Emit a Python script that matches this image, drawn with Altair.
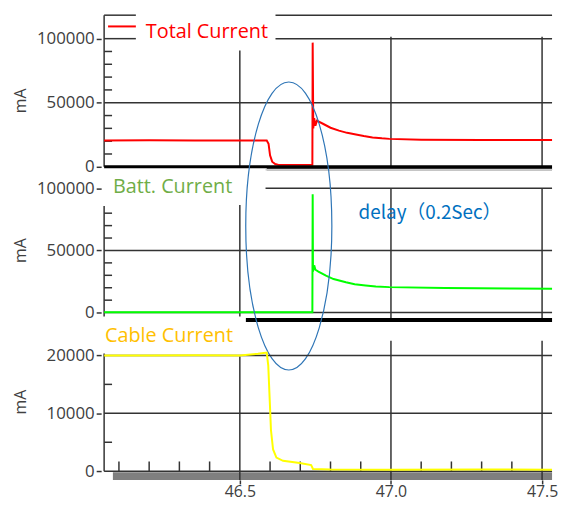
import altair as alt
import pandas as pd

# ---------------- data ----------------
total_x = [46.051, 46.2, 46.35, 46.5, 46.589, 46.595, 46.600, 46.607, 46.617, 46.628, 46.700,
           46.740, 46.741, 46.743, 46.746, 46.750, 46.755, 46.775, 46.800, 46.828, 46.855,
           46.884, 46.910, 46.939, 46.970, 46.995, 47.1, 47.3, 47.533]
total_y = [20600, 20700, 20500, 20600, 20600, 18000, 9000, 4000, 2200, 1500, 1500,
           1500, 96900, 30000, 38000, 32000, 36000, 33600, 30500, 28200, 26500,
           25200, 24000, 22900, 22200, 21800, 21200, 21000, 21000]

batt_x = [46.051, 46.740, 46.741, 46.742, 46.746, 46.750, 46.760, 46.785, 46.810, 46.851,
          46.880, 46.916, 46.95, 46.995, 47.179, 47.4, 47.533]
batt_y = [200, 200, 95300, 33000, 38000, 34500, 33000, 29700, 27000, 24400,
          22800, 21800, 21000, 20500, 19700, 19400, 19100]

cable_x = [46.051, 46.2, 46.35, 46.5, 46.56, 46.589, 46.594, 46.599, 46.603, 46.610,
           46.621, 46.643, 46.698, 46.736, 46.742, 46.80, 47.0, 47.3, 47.533]
cable_y = [20000, 20000, 20050, 20000, 20300, 20500, 18300, 12150, 7100, 3750,
           2350, 1800, 1400, 1060, 390, 300, 250, 300, 250]

series_names = ["Total Current", "Batt. Current", "Cable Current"]
unit = "mA"
x_ticks = [46.5, 47.0, 47.5]
x_minor = [46.1, 46.2, 46.3, 46.4, 46.6, 46.7, 46.8, 46.9, 47.1, 47.2, 47.3, 47.4]
y_ticks_big = [0, 50000, 100000]
y_minor_big = [10000, 20000, 30000, 40000, 60000, 70000, 80000, 90000]
y_ticks_small = [0, 10000, 20000]
y_minor_small = [5000, 15000]
note_text = "delay（0.2Sec）"

# ---------------- layout constants ----------------
XMIN, XMAX = 46.051, 47.533
X_DOMAIN = [XMIN, XMAX]
W = 452
H1, H2, H3 = 153, 156, 160
D1 = [0, 118321]
D2 = [-7087, 117323]
D3 = [-1513, 25882]
GRID = "#333333"
FONT = "Open Sans"
LABEL = "#404040"


def xs():
    return alt.Scale(domain=X_DOMAIN, nice=False, zero=False)


def ys(d):
    return alt.Scale(domain=d, nice=False, zero=False)


def yaxis(ticks, title_y):
    return alt.Axis(
        values=ticks, format="d", title=unit, domain=False, grid=False,
        tickSize=5, tickColor=GRID, tickWidth=1.5, offset=3, labelPadding=2,
        labelFont=FONT, labelFontSize=17, labelColor=LABEL,
        titleFont=FONT, titleFontSize=16, titleFontWeight="normal", titleColor=LABEL,
        titleX=-81, titleY=title_y, titleAlign="center", titleBaseline="middle")


XAXIS3 = alt.Axis(values=x_ticks, format=".1f", title=None, domain=False,
                  grid=False, tickSize=4, tickColor=GRID, tickWidth=1.5,
                  labelPadding=0, labelFont=FONT, labelFontSize=16,
                  labelColor=LABEL)


class Panel:
    def __init__(self, d, ya, xa=None):
        self.d = d
        self.ya = ya
        self.xa = xa

    def X(self, f="x:Q"):
        return alt.X(f, scale=xs(), axis=self.xa)

    def Y(self, f="y:Q"):
        return alt.Y(f, scale=ys(self.d), axis=self.ya)

    def hsegs(self, rows, color=GRID, width=1.5):
        df = pd.DataFrame(rows, columns=["x", "x2", "y"])
        return alt.Chart(df).mark_rule(color=color, strokeWidth=width).encode(
            x=self.X(), x2="x2:Q", y=self.Y())

    def vsegs(self, rows, color=GRID, width=1.5):
        df = pd.DataFrame(rows, columns=["x", "y", "y2"])
        return alt.Chart(df).mark_rule(color=color, strokeWidth=width).encode(
            x=self.X(), y=self.Y(), y2="y2:Q")

    def minor_y(self, vals):
        df = pd.DataFrame({"y": vals})
        return alt.Chart(df).mark_rule(color=GRID, strokeWidth=1.5).encode(
            x=alt.value(0), x2=alt.value(8), y=self.Y())

    def series(self, xv, yv, color):
        df = pd.DataFrame({"x": xv, "y": yv})
        return alt.Chart(df).mark_line(color=color, strokeWidth=2).encode(
            x=self.X(), y=self.Y())

    def label(self, txt, x, y, color, size=20, font=FONT):
        df = pd.DataFrame({"x": [x], "y": [y], "t": [txt]})
        return alt.Chart(df).mark_text(align="left", baseline="middle", font=font,
                                       fontSize=size, color=color).encode(
            x=self.X(), y=self.Y(), text="t:N")


# ---------------- panel 1 : Total Current ----------------
P1 = Panel(D1, yaxis(y_ticks_big, 86), None)
p1 = alt.layer(
    P1.hsegs([[XMIN, 46.156, 118321], [46.618, XMAX, 118321],
              [XMIN, 46.156, 100000], [46.618, XMAX, 100000],
              [XMIN, XMAX, 50000]]),
    P1.vsegs([[46.5, 0, 90840], [47.0, 0, 101500], [47.5, 0, 101500],
              [XMIN, 0, 118321]]),
    P1.minor_y(y_minor_big),
    P1.hsegs([[46.064, 46.156, 109542]], color="#FF0000", width=2),
    P1.label(series_names[0], 46.189, 105344, "#FF0000"),
    P1.series(total_x, total_y, "#FF0000"),
    P1.hsegs([[XMIN, XMAX, 0]], color="#000000", width=3),
    P1.hsegs([[46.589, XMAX, -1900]], color="#000000", width=2),
).properties(width=W, height=H1)

# ---------------- panel 2 : Batt. Current ----------------
P2 = Panel(D2, yaxis(y_ticks_big, 84), None)
ell = pd.DataFrame({"x": [46.662], "y": [69685]})
ELLIPSE = ("M0,-1 C0.165,-1 0.299,-0.552 0.299,0 C0.299,0.552 0.165,1 0,1 "
           "C-0.165,1 -0.299,0.552 -0.299,0 C-0.299,-0.552 -0.165,-1 0,-1 Z")
p2 = alt.layer(
    P2.hsegs([[46.585, XMAX, 114961]], color="#cccccc", width=1.5),
    P2.hsegs([[46.585, XMAX, 100000], [XMIN, XMAX, 50000],
              [XMIN, XMAX, 0]]),
    P2.vsegs([[46.5, -3150, 86614], [47.0, -4724, 100000], [47.5, -4724, 100000],
              [XMIN, -3150, 85827]]),
    P2.minor_y([v for v in y_minor_big if v <= 80000]),
    P2.label(series_names[1], 46.080, 100787, "#70AD47"),
    P2.label(note_text, 46.893, 80315, "#0070C0", size=19, font="Noto Sans CJK JP"),
    P2.series(batt_x, batt_y, "#00FF00"),
    P2.hsegs([[46.520, XMAX, -5906]], color="#000000", width=4),
    alt.Chart(ell).mark_point(shape=ELLIPSE, size=84450, filled=False,
                              color="#2E75B6", strokeWidth=1.2, opacity=1).encode(
        x=P2.X(), y=P2.Y()),
).properties(width=W, height=H2)

# ---------------- panel 3 : Cable Current ----------------
P3 = Panel(D3, yaxis(y_ticks_small, 81), XAXIS3)
band = pd.DataFrame({"x": [46.080], "x2": [XMAX], "y": [-168], "y2": [-1513]})
xminor = pd.DataFrame({"x": x_minor, "y": [0] * len(x_minor), "y2": [1681] * len(x_minor)})
p3 = alt.layer(
    alt.Chart(band).mark_rect(color="#7f7f7f").encode(
        x=P3.X(), x2="x2:Q", y=P3.Y(), y2="y2:Q"),
    P3.hsegs([[XMIN, XMAX, 20000], [XMIN, XMAX, 10000],
              [XMIN, XMAX, 0]]),
    P3.vsegs([[46.5, -1513, 19832], [47.0, -1513, 22521], [47.5, -1513, 22521],
              [XMIN, 0, 20336]]),
    P3.minor_y(y_minor_small),
    alt.Chart(xminor).mark_rule(color=GRID, strokeWidth=1.5).encode(
        x=P3.X(), y=P3.Y(), y2="y2:Q"),
    P3.label(series_names[2], 46.054, 23361, "#FFC000"),
    P3.series(cable_x, cable_y, "#FFFF00"),
).properties(width=W, height=H3)

chart = alt.vconcat(p1, p2, p3, spacing=0, bounds="flush").resolve_scale(
    y="independent"
).properties(
    padding={"left": 5, "top": 4, "right": 0, "bottom": 0}, background="white"
).configure_view(stroke=None)

chart.save("out.html", embed_options={"renderer": "svg", "actions": False})
